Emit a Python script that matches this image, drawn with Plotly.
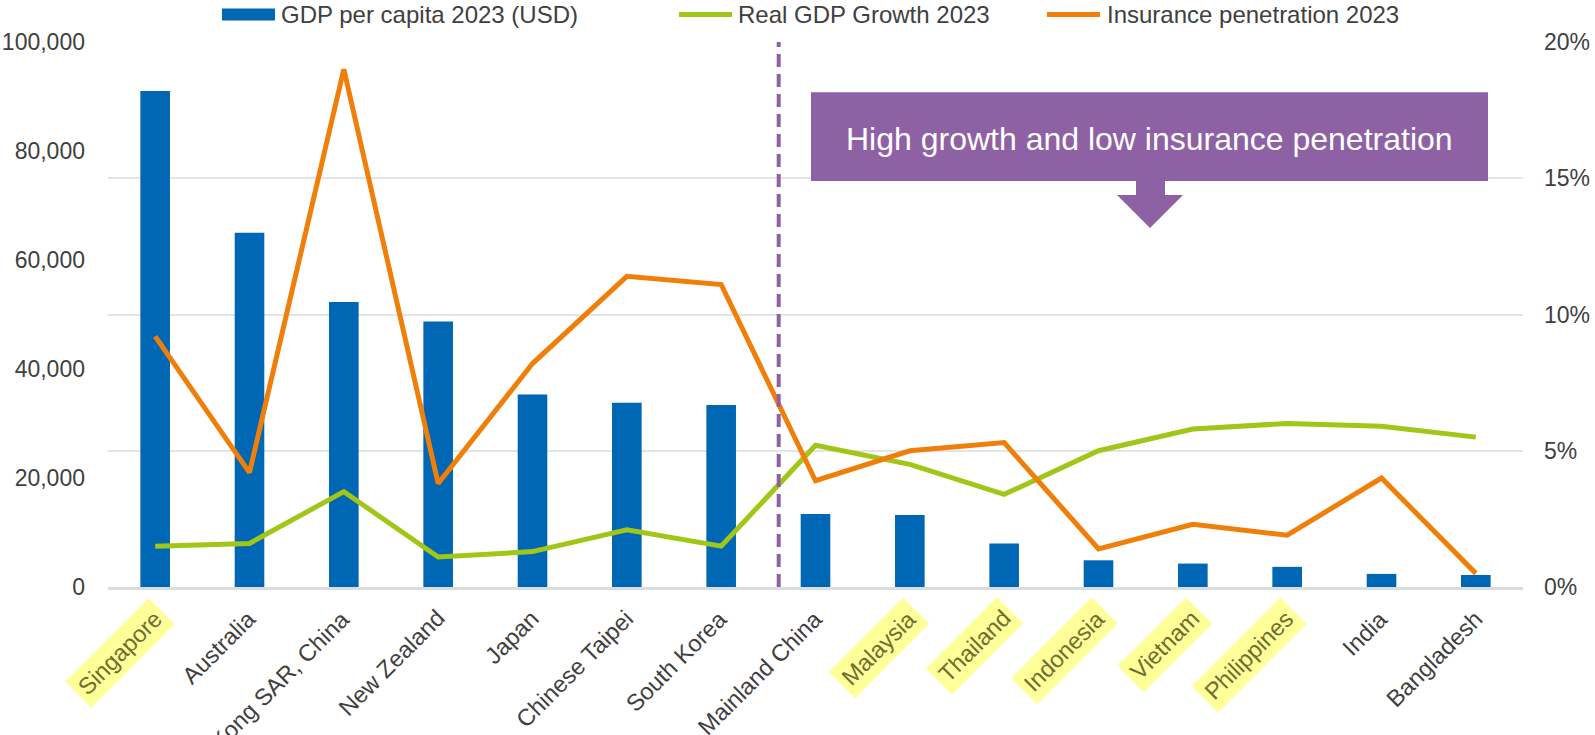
import plotly.graph_objects as go

# ---------------- data ----------------
countries = ["Singapore", "Australia", "Hong Kong SAR, China", "New Zealand", "Japan",
             "Chinese Taipei", "South Korea", "Mainland China", "Malaysia", "Thailand",
             "Indonesia", "Vietnam", "Philippines", "India", "Bangladesh"]
gdp_per_capita = [91000, 65000, 52300, 48700, 35300, 33800, 33400, 13400, 13200,
                  8000, 4900, 4300, 3700, 2400, 2200]
real_gdp_growth = [1.5, 1.6, 3.5, 1.1, 1.3, 2.1, 1.5, 5.2, 4.5, 3.4, 5.0, 5.8, 6.0, 5.9, 5.5]
insurance_penetration = [9.2, 4.2, 19.0, 3.8, 8.2, 11.4, 11.1, 3.9, 5.0, 5.3, 1.4, 2.3, 1.9, 4.0, 0.5]
highlighted = ["Singapore", "Malaysia", "Thailand", "Indonesia", "Vietnam", "Philippines"]
left_ticks = [0, 20000, 40000, 60000, 80000, 100000]
right_ticks = [0, 5, 10, 15, 20]
right_tick_labels = ["0%", "5%", "10%", "15%", "20%"]
legend_names = ["GDP per capita 2023 (USD)", "Real GDP Growth 2023", "Insurance penetration 2023"]
callout_text = "High growth and low insurance penetration"

# ---------------- style ----------------
BLUE = "#0067b4"
GREEN = "#a2c617"
ORANGE = "#f07f09"
PURPLE = "#8e61a4"
TXT = "#404040"
FONT = "Liberation Sans, Arial, sans-serif"

W, H = 1595, 735
L, R, T, B = 108, 72, 42, 148
PW, PH = W - L - R, H - T - B


def px(x):
    return (x - L) / PW


def py(y):
    return (H - B - y) / PH


fig = go.Figure()
fig.add_bar(x=countries, y=gdp_per_capita, marker=dict(color=BLUE, line=dict(width=0)),
            name=legend_names[0], showlegend=False)
fig.add_scatter(x=countries, y=real_gdp_growth, mode="lines", yaxis="y2",
                line=dict(color=GREEN, width=5), name=legend_names[1], showlegend=False)
fig.add_scatter(x=countries, y=insurance_penetration, mode="lines", yaxis="y2",
                line=dict(color=ORANGE, width=5), name=legend_names[2], showlegend=False)

annotations = []
for c in countries:
    hl = c in highlighted
    annotations.append(dict(
        x=c, xref="x", y=0, yref="paper", text=c, showarrow=False,
        textangle=-45, xanchor="right", yanchor="top", xshift=20, yshift=-10,
        font=dict(size=23.5, color="#6e6e2e" if hl else TXT, family=FONT),
        bgcolor="#ffff99" if hl else "rgba(0,0,0,0)", borderpad=5,
    ))

# custom legend
leg_y = 14.5
shapes = [
    dict(type="rect", xref="paper", yref="paper", x0=px(222), x1=px(275),
         y0=py(20.5), y1=py(8.5), fillcolor=BLUE, line=dict(width=0)),
    dict(type="line", xref="paper", yref="paper", x0=px(679), x1=px(732),
         y0=py(leg_y), y1=py(leg_y), line=dict(color=GREEN, width=5)),
    dict(type="line", xref="paper", yref="paper", x0=px(1047), x1=px(1100),
         y0=py(leg_y), y1=py(leg_y), line=dict(color=ORANGE, width=5)),
]
for name, x0 in zip(legend_names, [279, 736, 1105]):
    annotations.append(dict(x=px(x0), y=py(leg_y), xref="paper", yref="paper", text=name,
                            showarrow=False, xanchor="left", yanchor="middle",
                            font=dict(size=24, color=TXT, family=FONT)))

# dashed divider
shapes.append(dict(type="line", xref="paper", yref="paper", x0=px(778.7), x1=px(778.7),
                   y0=0, y1=1, line=dict(color=PURPLE, width=4, dash="13px,7px"),
                   layer="above"))
# callout box
shapes.append(dict(type="rect", xref="paper", yref="paper", x0=px(811), x1=px(1488),
                   y0=py(181), y1=py(92.3), fillcolor=PURPLE, line=dict(width=0)))
arrow = (f"M {px(1136)} {py(180)} L {px(1165)} {py(180)} L {px(1165)} {py(195)} "
         f"L {px(1183)} {py(195)} L {px(1150)} {py(228)} L {px(1117)} {py(195)} "
         f"L {px(1136)} {py(195)} Z")
shapes.append(dict(type="path", xref="paper", yref="paper", path=arrow,
                   fillcolor=PURPLE, line=dict(width=0)))
annotations.append(dict(x=px((811 + 1488) / 2), y=py(139), xref="paper", yref="paper",
                        text=callout_text, showarrow=False, xanchor="center", yanchor="middle",
                        font=dict(size=32, color="white", family=FONT)))

fig.update_layout(
    width=W, height=H, margin=dict(l=L, r=R, t=T, b=B, pad=0, autoexpand=False),
    paper_bgcolor="white", plot_bgcolor="white",
    font=dict(family=FONT, color=TXT, size=23),
    bargap=0.686,
    xaxis=dict(type="category", range=[-0.5, 14.5], showticklabels=False, ticks="",
               showgrid=False, zeroline=False, showline=True, linecolor="#d9dddd",
               linewidth=2.5, automargin=False),
    yaxis=dict(range=[0, 100000], tickvals=left_ticks, tickformat=",", showgrid=False,
               zeroline=False, showline=False, ticks="", ticklabelstandoff=22,
               automargin=False, tickfont=dict(size=23, color=TXT, family=FONT)),
    yaxis2=dict(range=[0, 20], tickvals=right_ticks, ticktext=right_tick_labels,
                overlaying="y", side="right", showgrid=True, gridcolor="#e2e5e5",
                gridwidth=1.5, zeroline=False, showline=False, ticks="",
                ticklabelstandoff=20, automargin=False,
                tickfont=dict(size=23, color=TXT, family=FONT)),
    shapes=shapes, annotations=annotations, showlegend=False,
)

fig.write_html("out.html")
